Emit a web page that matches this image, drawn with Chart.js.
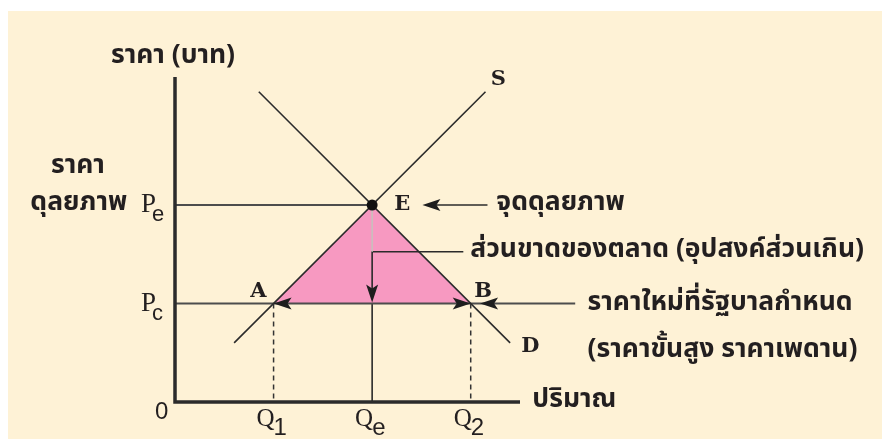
<!DOCTYPE html>
<html>
<head>
<meta charset="utf-8">
<script src="https://cdn.jsdelivr.net/npm/chart.js@4.4.1/dist/chart.umd.min.js"></script>
<style>
  html, body { margin: 0; padding: 0; background: #ffffff; }
  canvas { display: block; }
</style>
</head>
<body>
<canvas id="priceCeiling" width="882" height="439"></canvas>
<script>
// ข้อมูลของกราฟ (หน่วยสมมติ)
const quantityTicks = ['1', 'e', '2'];      // Q1, Qe, Q2
const quantityValues = [2, 4, 6];
const priceTicks = ['e', 'c'];              // Pe, Pc
const priceValues = [4, 2];
const supplyLine = [[1.2, 1.2], [6.3, 6.3]];
const demandLine = [[1.7, 6.3], [6.8, 1.2]];
const equilibrium = [4, 4];
const ceilingPrice = 2;
const pointA = [2, 2];
const pointB = [6, 2];

const ink = '#231f20';
const cream = '#fef2d6';
const pink = '#f799c1';
const thaiFont = "'Noto Sans Thai', 'Noto Sans', 'DejaVu Sans', sans-serif";
const thai = 'bold 26.5px ' + thaiFont;

const toXY = p => ({ x: p[0], y: p[1] });
const seg = (pts, color, width, extra) => Object.assign({
  data: pts.map(toXY), showLine: true, borderColor: color, borderWidth: width,
  pointRadius: 0, clip: false, fill: false, order: 1
}, extra || {});

const datasets = [
  // จุด E
  { data: [toXY(equilibrium)], pointRadius: 5.5, pointBackgroundColor: '#111', pointBorderWidth: 0, clip: false, order: 0 },
  // แกน
  seg([[0, 6.6], [0, 0], [7, 0]], '#2b2b2b', 3.5),
  // เส้นอุปทานและอุปสงค์
  seg(supplyLine, '#2b2b2b', 1.6),
  seg(demandLine, '#2b2b2b', 1.6),
  // เส้นราคา
  seg([[0, equilibrium[1]], equilibrium], '#4d4d4d', 2),
  seg([[0, ceilingPrice], [8.12, ceilingPrice]], '#4d4d4d', 2),
  // เส้นประ Q1, Q2
  seg([pointA, [pointA[0], 0]], '#333', 1.5, { borderDash: [5, 4] }),
  seg([pointB, [pointB[0], 0]], '#333', 1.5, { borderDash: [5, 4] }),
  // Qe
  seg([equilibrium, [4, 3.05]], '#c9c0bd', 1.6),
  seg([[5.85, 3.05], [4, 3.05], [4, 2.1]], '#2b2b2b', 1.6),
  seg([[4, ceilingPrice], [4, 0]], '#2b2b2b', 1.6),
  seg([[6.34, 4], [5.2, 4]], '#2b2b2b', 1.6),
  // พื้นที่ส่วนขาด
  { data: [pointA, equilibrium, pointB].map(toXY), showLine: true, fill: 'shape', backgroundColor: pink,
    borderWidth: 0, pointRadius: 0, clip: false, order: 10 }
];

// หัวลูกศร
const arrows = [
  { at: pointA, dir: 'left' },
  { at: pointB, dir: 'right' },
  { at: [6.19, 2], dir: 'left' },
  { at: [4, 2.02], dir: 'down' },
  { at: [5.02, 4], dir: 'left' }
];

// ข้อความ
const labels = [
  { text: 'ราคา (บาท)', at: [-1.3, 7.0], align: 'left', font: thai },
  { text: 'ราคา', at: [-1.97, 4.75], align: 'center', font: thai },
  { text: 'ดุลยภาพ', at: [-0.97, 4.0], align: 'right', font: thai },
  { text: 'จุดดุลยภาพ', at: [6.52, 4.0], align: 'left', font: thai },
  { text: 'ส่วนขาดของตลาด (อุปสงค์ส่วนเกิน)', at: [5.99, 3.05], align: 'left', font: thai },
  { text: 'ราคาใหม่ที่รัฐบาลกำหนด', at: [8.37, 1.97], align: 'left', font: thai },
  { text: '(ราคาขั้นสูง ราคาเพดาน)', at: [8.37, 1.02], align: 'left', font: thai },
  { text: 'ปริมาณ', at: [7.25, 0.0], align: 'left', font: thai },
  { text: 'S', at: [6.56, 6.54], align: 'center', font: 'bold 21px "DejaVu Serif", serif' },
  { text: 'E', at: [4.61, 4.0], align: 'center', font: 'bold 21px "DejaVu Serif", serif' },
  { text: 'A', at: [1.69, 2.25], align: 'center', font: 'bold 21px "DejaVu Serif", serif' },
  { text: 'B', at: [6.25, 2.25], align: 'center', font: 'bold 21px "DejaVu Serif", serif' },
  { text: 'D', at: [7.21, 1.12], align: 'center', font: 'bold 21px "DejaVu Serif", serif' },
  { text: '0', at: [-0.27, -0.22], align: 'center', font: '24px "Liberation Sans", sans-serif' }
];

function arrowHead(ctx, x, y, dir) {
  const len = 18, half = 6, notch = 4;
  const ang = { left: Math.PI, right: 0, down: Math.PI / 2 }[dir];
  ctx.save();
  ctx.translate(x, y);
  ctx.rotate(ang);
  ctx.beginPath();
  ctx.moveTo(0, 0);
  ctx.lineTo(-len, -half);
  ctx.lineTo(-len + notch, 0);
  ctx.lineTo(-len, half);
  ctx.closePath();
  ctx.fillStyle = '#1e1e1e';
  ctx.fill();
  ctx.restore();
}

const decor = {
  id: 'decor',
  beforeDraw(chart) {
    const ctx = chart.ctx;
    ctx.save();
    ctx.fillStyle = '#ffffff';
    ctx.fillRect(0, 0, chart.width, chart.height);
    ctx.fillStyle = cream;
    ctx.fillRect(8, 11, chart.width - 8, chart.height - 11);
    ctx.restore();
  },
  afterDatasetsDraw(chart) {
    const ctx = chart.ctx, xs = chart.scales.x, ys = chart.scales.y;
    const px = v => xs.getPixelForValue(v), py = v => ys.getPixelForValue(v);
    arrows.forEach(a => arrowHead(ctx, px(a.at[0]), py(a.at[1]), a.dir));
    ctx.save();
    ctx.fillStyle = ink;
    ctx.textBaseline = 'middle';
    labels.forEach(l => {
      ctx.font = l.font;
      ctx.textAlign = l.align;
      ctx.fillText(l.text, px(l.at[0]), py(l.at[1]));
    });
    // P และ Q พร้อมตัวห้อย
    ctx.textBaseline = 'alphabetic';
    priceValues.forEach((v, i) => {
      const y = py(v);
      ctx.font = '27px "Liberation Serif", serif';
      ctx.textAlign = 'right';
      ctx.fillText('P', px(0) - 19, y + 7);
      ctx.font = '22px "Liberation Sans", sans-serif';
      ctx.textAlign = 'left';
      ctx.fillText(priceTicks[i], px(0) - 23, y + 16);
    });
    quantityValues.forEach((v, i) => {
      const x = px(v), y = py(0);
      ctx.font = '25px "Liberation Serif", serif';
      ctx.textAlign = 'right';
      ctx.fillText('Q', x + 1, y + 24);
      ctx.font = '24px "Liberation Sans", sans-serif';
      ctx.textAlign = 'left';
      ctx.fillText(quantityTicks[i], x, y + 33);
    });
    ctx.restore();
  }
};

new Chart(document.getElementById('priceCeiling'), {
  type: 'scatter',
  data: { datasets: datasets },
  options: {
    responsive: false,
    animation: false,
    devicePixelRatio: 1,
    layout: { padding: { left: 175, right: 362, top: 77, bottom: 37 } },
    scales: {
      x: { type: 'linear', min: 0, max: 7, display: false },
      y: { type: 'linear', min: 0, max: 6.6, display: false }
    },
    plugins: { legend: { display: false }, tooltip: { enabled: false } }
  },
  plugins: [decor]
});
</script>
</body>
</html>
